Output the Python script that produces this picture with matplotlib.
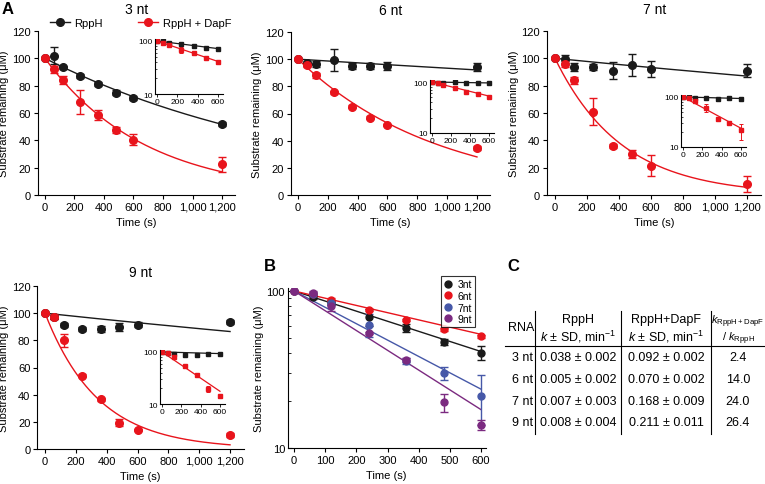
import matplotlib
matplotlib.use("Agg")
import matplotlib.pyplot as plt
import numpy as np
from matplotlib.lines import Line2D
from matplotlib.ticker import FuncFormatter, LogLocator, NullFormatter

plt.rcParams['font.family'] = ['Liberation Sans', 'DejaVu Sans']
plt.rcParams['mathtext.fontset'] = 'custom'
plt.rcParams['mathtext.rm'] = 'Liberation Sans'
plt.rcParams['mathtext.it'] = 'Liberation Sans:italic'

# ---- data ----
times = [0, 60, 120, 240, 360, 480, 600, 1200]

nt3_rpph = [100, 102, 93.5, 87, 81, 75, 71, 52]
nt3_rpph_sd = [0, 6, 1, 1.5, 1.5, 1.5, 1.5, 1.5]
nt3_dapf = [100, 92, 84, 68, 58.5, 47.5, 40.5, 22.5]
nt3_dapf_sd = [0, 2.5, 3, 8.5, 3.5, 2, 4, 5.5]

nt6_rpph = [100, 97, 96.5, 99.5, 95, 95, 95, 94]
nt6_rpph_sd = [0, 2, 2, 8, 2, 2.5, 3, 3]
nt6_dapf = [100, 95.5, 88, 75.5, 65, 57, 51.5, 34.5]
nt6_dapf_sd = [0, 1.5, 2, 1, 1, 1, 1, 1.5]

nt7_rpph = [100, 99.5, 93.5, 93.5, 91, 95, 92, 91]
nt7_rpph_sd = [0, 3, 3, 2, 6, 8, 6, 5]
nt7_dapf = [100, 96, 84, 61, 36, 30, 21.5, 8]
nt7_dapf_sd = [0, 2, 2.5, 10, 1.5, 3, 7.5, 6]

nt9_rpph = [100, 97, 91.5, 88.5, 88.5, 90, 91.5, 93.5]
nt9_rpph_sd = [0, 1.5, 1.5, 1.5, 2, 3, 2, 1.5]
nt9_dapf = [100, 97.5, 80, 54, 36.5, 19.5, 14, 10.5]
nt9_dapf_sd = [0, 2, 5, 1, 1, 2.5, 1, 1.5]

# first-order fit rates (per second)
fit_k_rpph = [5.5e-4, 6.9e-5, 1.16e-4, 1.21e-4]
fit_k_dapf = [1.48e-3, 1.06e-3, 2.4e-3, 2.9e-3]

panel_titles = ['3 nt', '6 nt', '7 nt', '9 nt']
b_labels = ['3nt', '6nt', '7nt', '9nt']

# table C
tbl_rna = ['3 nt', '6 nt', '7 nt', '9 nt']
tbl_k_rpph = ['0.038 ± 0.002', '0.005 ± 0.002', '0.007 ± 0.003', '0.008 ± 0.004']
tbl_k_dapf = ['0.092 ± 0.002', '0.070 ± 0.002', '0.168 ± 0.009', '0.211 ± 0.011']
tbl_ratio = ['2.4', '14.0', '24.0', '26.4']

BLACK = '#1a1a1a'
RED = '#e8141c'
B_COLORS = [BLACK, RED, '#4658a8', '#7b2a80']

W, H = 765, 485
fig = plt.figure(figsize=(W / 100, H / 100), dpi=100)


def px_box(left, top, right, bottom):
    return [left / W, 1 - bottom / H, (right - left) / W, (bottom - top) / H]


def thousands(v, pos):
    return f"{v:,.0f}"


def draw_main(ax, blk, blk_sd, k_b, red, red_sd, k_r, title, tpad):
    t_fit = np.linspace(0, 1200, 200)
    ax.plot(t_fit, 100 * np.exp(-k_b * t_fit), color=BLACK, lw=1)
    ax.plot(t_fit, 100 * np.exp(-k_r * t_fit), color=RED, lw=1)
    ax.errorbar(times, blk, yerr=blk_sd, fmt='o', color=BLACK, ms=5.5,
                capsize=3, elinewidth=1, capthick=1)
    ax.errorbar(times, red, yerr=red_sd, fmt='o', color=RED, ms=5.5,
                capsize=3, elinewidth=1, capthick=1)
    ax.set_xlim(-50, 1290)
    ax.set_ylim(0, 120)
    ax.set_xticks(range(0, 1201, 200))
    ax.set_yticks(range(0, 121, 20))
    ax.xaxis.set_major_formatter(FuncFormatter(thousands))
    for s in ['top', 'right']:
        ax.spines[s].set_visible(False)
    ax.tick_params(labelsize=8, length=3, width=0.8, pad=2)
    ax.set_xlabel('Time (s)', fontsize=8, labelpad=4)
    ax.set_ylabel('Substrate remaining (μM)', fontsize=8, labelpad=2)
    ax.set_title(title, fontsize=10, pad=tpad)


def draw_inset(ax, blk, blk_sd, k_b, red, red_sd, k_r):
    t_fit = np.linspace(0, 600, 50)
    ax.plot(t_fit, 100 * np.exp(-k_b * t_fit), color=BLACK, lw=0.9)
    ax.plot(t_fit, 100 * np.exp(-k_r * t_fit), color=RED, lw=0.9)
    ax.errorbar(times[:7], blk[:7], yerr=blk_sd[:7], fmt='s', color=BLACK, ms=2.5,
                capsize=1.2, elinewidth=0.7, capthick=0.7)
    ax.errorbar(times[:7], red[:7], yerr=red_sd[:7], fmt='s', color=RED, ms=2.5,
                capsize=1.2, elinewidth=0.7, capthick=0.7)
    ax.set_yscale('log')
    ax.set_xlim(-25, 650)
    ax.set_ylim(10, 110)
    ax.set_xticks([0, 200, 400, 600])
    ax.set_yticks([10, 100])
    ax.set_yticklabels(['10', '100'])
    ax.yaxis.set_minor_formatter(NullFormatter())
    for s in ['top', 'right']:
        ax.spines[s].set_visible(False)
    ax.patch.set_alpha(0)
    ax.tick_params(labelsize=6, length=2, width=0.6, pad=1)
    ax.tick_params(axis='y', which='both', direction='in', pad=1.5)
    ax.tick_params(which='minor', length=1.5, width=0.5)


rpph = [nt3_rpph, nt6_rpph, nt7_rpph, nt9_rpph]
rpph_sd = [nt3_rpph_sd, nt6_rpph_sd, nt7_rpph_sd, nt9_rpph_sd]
dapf = [nt3_dapf, nt6_dapf, nt7_dapf, nt9_dapf]
dapf_sd = [nt3_dapf_sd, nt6_dapf_sd, nt7_dapf_sd, nt9_dapf_sd]

main_boxes = [(37.6, 32, 235.3, 196), (290.5, 33, 490.4, 196),
              (547, 32, 761.4, 196), (37.3, 287, 243.9, 450)]
inset_boxes = [(154.5, 39.8, 223, 95), (429.6, 80.9, 493.8, 134),
               (680.6, 95.9, 745.8, 148), (159.6, 350.8, 224.8, 405)]
title_pads = [13, 13, 13, 7]

for i in range(4):
    ax = fig.add_axes(px_box(*main_boxes[i]))
    draw_main(ax, rpph[i], rpph_sd[i], fit_k_rpph[i], dapf[i], dapf_sd[i],
              fit_k_dapf[i], panel_titles[i], title_pads[i])
    if i == 0:
        handles = [Line2D([], [], color=BLACK, marker='o', ms=5.5, lw=1),
                   Line2D([], [], color=RED, marker='o', ms=5.5, lw=1)]
        ax.legend(handles, ['RppH', 'RppH + DapF'], loc='center',
                  bbox_to_anchor=(0.52, 1.05), ncol=2, frameon=False,
                  fontsize=8, handlelength=1.8, columnspacing=3.2,
                  handletextpad=0.4, borderaxespad=0)
    iax = fig.add_axes(px_box(*inset_boxes[i]))
    draw_inset(iax, rpph[i], rpph_sd[i], fit_k_rpph[i], dapf[i], dapf_sd[i],
               fit_k_dapf[i])

# ---- panel B ----
axb = fig.add_axes(px_box(287.8, 289.3, 485.7, 449))
t_fit = np.linspace(0, 600, 50)
for i in range(4):
    axb.plot(t_fit, 100 * np.exp(-fit_k_dapf[i] * t_fit), color=B_COLORS[i], lw=1)
for i in range(4):
    axb.errorbar(times[:7], dapf[i][:7], yerr=dapf_sd[i][:7], fmt='o',
                 color=B_COLORS[i], ms=5, capsize=3, elinewidth=1, capthick=1)
axb.set_yscale('log')
axb.set_xlim(-20, 615)
axb.set_ylim(10, 104)
axb.set_xticks(range(0, 601, 100))
axb.set_yticks([10, 100])
axb.set_yticklabels(['10', '100'])
axb.yaxis.set_minor_locator(LogLocator(base=10, subs=np.arange(2, 10)))
axb.yaxis.set_minor_formatter(NullFormatter())
for s in ['top', 'right']:
    axb.spines[s].set_visible(False)
axb.tick_params(labelsize=8, length=3, width=0.8, pad=2)
axb.tick_params(axis='y', which='both', direction='in', pad=2)
axb.tick_params(which='minor', length=2.5, width=0.6)
axb.set_xlabel('Time (s)', fontsize=8, labelpad=4)
axb.set_ylabel('Substrate remaining (μM)', fontsize=8, labelpad=2)
hb = [Line2D([], [], color=c, marker='o', ms=5, lw=0) for c in B_COLORS]
leg = axb.legend(hb, b_labels, loc='upper right', bbox_to_anchor=(0.945, 1.075),
                 fontsize=7.5, frameon=True, fancybox=False, borderaxespad=0,
                 handlelength=0.8, handletextpad=0.5, borderpad=0.3,
                 labelspacing=0.15)
leg.get_frame().set_edgecolor('black')
leg.get_frame().set_linewidth(0.8)

# ---- panel C table + panel letters ----
ax_t = fig.add_axes([0, 0, 1, 1])
ax_t.set_xlim(0, W)
ax_t.set_ylim(H, 0)
ax_t.axis('off')

for xv in [535, 621, 711]:
    ax_t.plot([xv, xv], [312, 435], color='black', lw=0.8)
ax_t.plot([505, 765], [347, 347], color='black', lw=0.8)

fs = 9
ax_t.text(534, 328, 'RNA', ha='right', va='center', fontsize=fs)
ax_t.text(578, 320, 'RppH', ha='center', va='center', fontsize=fs)
ax_t.text(578, 337, r'$k$ ± SD, min$^{-1}$', ha='center', va='center', fontsize=fs)
ax_t.text(666, 320, 'RppH+DapF', ha='center', va='center', fontsize=fs)
ax_t.text(666, 337, r'$k$ ± SD, min$^{-1}$', ha='center', va='center', fontsize=fs)
ax_t.text(738, 322, r'$k_{\mathrm{RppH+DapF}}$', ha='center', va='center', fontsize=8)
ax_t.text(738, 339, r'/ $k_{\mathrm{RppH}}$', ha='center', va='center', fontsize=8)

row_y = [358, 380, 402, 423]
for r in range(4):
    ax_t.text(533, row_y[r], tbl_rna[r], ha='right', va='center', fontsize=fs)
    ax_t.text(578, row_y[r], tbl_k_rpph[r], ha='center', va='center', fontsize=fs)
    ax_t.text(666, row_y[r], tbl_k_dapf[r], ha='center', va='center', fontsize=fs)
    ax_t.text(738, row_y[r], tbl_ratio[r], ha='center', va='center', fontsize=fs)

ax_t.text(8, 10, 'A', ha='center', va='center', fontsize=12, fontweight='bold')
ax_t.text(270, 267, 'B', ha='center', va='center', fontsize=12, fontweight='bold')
ax_t.text(513, 267, 'C', ha='center', va='center', fontsize=12, fontweight='bold')

fig.savefig('out.png', dpi=100)
